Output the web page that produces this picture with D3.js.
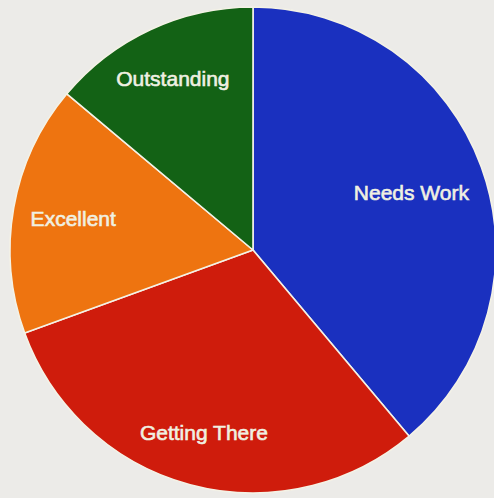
<!DOCTYPE html>
<html>
<head>
<meta charset="utf-8">
<script src="https://cdn.jsdelivr.net/npm/d3@7"></script>
<style>
  html, body { margin: 0; padding: 0; background: #ecebe8; }
  svg { display: block; }
</style>
</head>
<body>
<svg id="chart" width="494" height="498"></svg>
<script>
// Slice categories, counts and fill colours, drawn clockwise from 12 o'clock
const categories = ["Needs Work", "Getting There", "Excellent", "Outstanding"];
const counts = [14, 11, 6, 5];
const colors = ["#1a30bf", "#cf1c0c", "#ee7410", "#136215"];

const width = 494, height = 498;
const cx = 253, cy = 250, radius = 243;

const svg = d3.select("#chart");
const g = svg.append("g").attr("transform", `translate(${cx},${cy})`);

const pie = d3.pie().sort(null).value(d => d.value);
const data = categories.map((c, i) => ({ label: c, value: counts[i], color: colors[i] }));
const arcs = pie(data);

const arc = d3.arc().innerRadius(0).outerRadius(radius);

g.selectAll("path.slice")
  .data(arcs)
  .join("path")
  .attr("class", "slice")
  .attr("d", arc)
  .attr("fill", d => d.data.color)
  .attr("stroke", "#f4f2e6")
  .attr("stroke-width", 1.6)
  .attr("stroke-linejoin", "round");

const labels = g.selectAll("text.label")
  .data(arcs)
  .join("text")
  .attr("class", "label")
  .attr("text-anchor", "middle")
  .attr("dy", "0.35em")
  .attr("font-family", "Arial, 'Liberation Sans', sans-serif")
  .attr("font-size", 21)
  .attr("fill", "#f0f0e2")
  .attr("stroke", "#f0f0e2")
  .attr("stroke-width", 0.6)
  .text(d => d.data.label);

// Place each label on its slice's mid-angle, pulling it inward until the
// text box sits inside the pie with a small margin.
const halfH = 8, limit = radius * 0.93;
labels.each(function(d) {
  const halfW = this.getComputedTextLength() / 2;
  const a = (d.startAngle + d.endAngle) / 2;
  let r = radius * 0.78;
  const fits = (x, y) => [[-1, -1], [1, -1], [-1, 1], [1, 1]]
    .every(([sx, sy]) => Math.hypot(x + sx * halfW, y + sy * halfH) <= limit);
  let x = r * Math.sin(a), y = -r * Math.cos(a);
  while (!fits(x, y) && r > 0) {
    r -= 1;
    x = r * Math.sin(a); y = -r * Math.cos(a);
  }
  d3.select(this).attr("transform", `translate(${x},${y})`);
});
</script>
</body>
</html>
